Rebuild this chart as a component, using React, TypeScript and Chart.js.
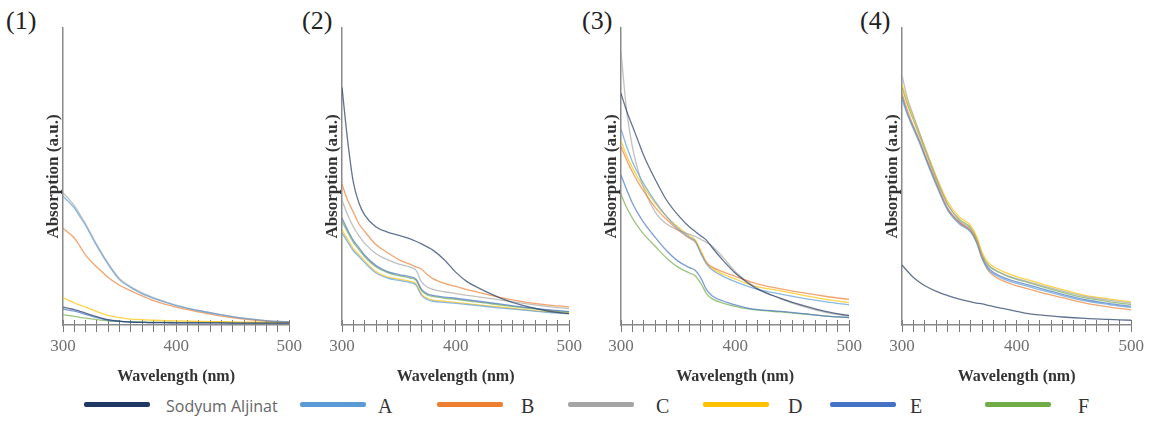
import React, { useEffect, useRef } from "react";
import { Chart, registerables } from "chart.js";

Chart.register(...registerables);

// ---------- DATA ----------
const WAVELENGTHS = [300, 305, 310, 315, 320, 330, 340, 350, 360, 365, 370, 375, 380, 390, 400, 410, 420, 440, 460, 480, 500];
const SERIES_NAMES = ["Sodyum Aljinat", "A", "B", "C", "D", "E", "F"];
const SERIES_COLORS = ["#203864", "#5b9bd5", "#ed7d31", "#a5a5a5", "#ffc000", "#4472c4", "#70ad47"];
const PANEL_LABELS = ["(1)", "(2)", "(3)", "(4)"];
const X_TICK_LABELS = [300, 400, 500];
const X_TITLE = "Wavelength (nm)";
const Y_TITLE = "Absorption (a.u.)";

// Panel (1)
const P1_SODYUM = [6.0, 5.6, 5.2, 4.6, 4.0, 2.8, 1.8, 1.3, 1.0, 0.9, 0.9, 0.8, 0.8, 0.8, 0.7, 0.7, 0.7, 0.7, 0.6, 0.6, 0.6];
const P1_A = [43.4, 41.5, 39.4, 36.5, 33.5, 26.5, 20.3, 15.2, 12.6, 11.5, 10.5, 9.7, 9.0, 7.7, 6.5, 5.6, 4.8, 3.4, 2.2, 1.4, 1.0];
const P1_B = [32.6, 31.0, 29.3, 26.5, 23.5, 19.5, 16.0, 13.4, 11.5, 10.6, 9.8, 9.0, 8.2, 7.0, 6.0, 5.2, 4.4, 3.0, 2.0, 1.3, 1.0];
const P1_C = [44.5, 42.5, 40.2, 37.2, 34.0, 27.0, 20.8, 15.6, 12.9, 11.8, 10.8, 10.0, 9.2, 7.9, 6.7, 5.7, 4.9, 3.5, 2.3, 1.5, 1.1];
const P1_D = [9.2, 8.3, 7.5, 6.7, 6.0, 4.5, 3.2, 2.5, 2.0, 1.9, 1.8, 1.7, 1.6, 1.5, 1.4, 1.3, 1.2, 1.1, 1.0, 1.0, 0.9];
const P1_E = [5.4, 5.0, 4.7, 4.2, 3.6, 2.5, 1.6, 1.2, 1.0, 0.9, 0.9, 0.8, 0.8, 0.8, 0.7, 0.7, 0.7, 0.7, 0.6, 0.6, 0.6];
const P1_F = [3.5, 3.2, 2.9, 2.6, 2.3, 1.8, 1.4, 1.2, 1.1, 1.1, 1.0, 1.0, 1.0, 1.0, 0.9, 0.9, 0.9, 0.9, 0.8, 0.8, 0.8];

// Panel (2)
const P2_SODYUM = [80, 62, 48, 41, 37, 33, 31.3, 30.2, 29, 28.2, 27.3, 26.3, 25.2, 22, 17.8, 14.6, 12.5, 9, 6.5, 4.8, 3.8];
const P2_A = [31, 28, 25, 23, 21, 17.5, 15.8, 15, 14.3, 13.5, 10, 8.6, 8, 7.6, 7.3, 6.9, 6.5, 5.7, 5, 4.3, 3.8];
const P2_B = [47.4, 42, 38, 34, 31.5, 27, 24.4, 22, 20.4, 19.6, 18.8, 17, 15.6, 14, 13, 11.9, 11, 9.2, 7.8, 6.8, 6.1];
const P2_C = [42, 37, 33, 30, 27.5, 24, 22, 20.5, 19.5, 18.5, 14.5, 12.8, 12, 11.2, 10.6, 10, 9.5, 8.4, 7.3, 6.3, 5.5];
const P2_D = [32, 28.8, 25.8, 23.6, 21.6, 18, 16.2, 15.4, 14.7, 13.9, 10.4, 9, 8.4, 8, 7.6, 7.2, 6.8, 6, 5.2, 4.5, 4];
const P2_E = [36, 32, 28.5, 26, 23.5, 20, 18, 17, 16.2, 15.5, 12, 10.5, 10, 9.4, 9, 8.5, 8, 7, 6, 5.2, 4.5];
const P2_F = [35, 31.2, 27.8, 25.3, 23, 19.5, 17.6, 16.6, 15.8, 15.1, 11.6, 10.1, 9.6, 9, 8.6, 8.1, 7.7, 6.7, 5.8, 5, 4.3];

// Panel (3)
const P3_SODYUM = [78, 72, 67, 62, 57, 49, 42, 37, 33, 31.5, 30, 28.5, 26, 21.5, 17.5, 14.5, 12, 9, 6.5, 4.5, 3.2];
const P3_A = [66, 60, 55, 51, 47.5, 41.5, 36.5, 32.5, 29.5, 28.2, 24, 20.5, 18.5, 16.3, 14.6, 13.2, 12, 10.4, 9, 7.8, 6.8];
const P3_B = [60, 55.5, 51.5, 48, 45, 39.5, 35.5, 32, 29.2, 28, 24.5, 21, 19.5, 17.8, 16.4, 15, 13.8, 12.2, 10.8, 9.6, 8.6];
const P3_C = [92, 72, 60, 52, 46, 38, 34, 32, 30.5, 29.8, 28.8, 27.8, 26.5, 22.5, 18, 14.8, 12.3, 8.8, 6.2, 4.2, 3];
const P3_D = [62, 57, 53, 49.5, 46.5, 41, 36.5, 33, 30, 28.7, 25, 21, 19, 17, 15.5, 14, 12.8, 11.5, 10, 8.6, 7.5];
const P3_E = [50.5, 45.5, 41, 37.5, 34.5, 29.5, 25, 21.5, 19.3, 18.4, 15.8, 11.8, 9.8, 8, 6.8, 5.8, 5.2, 4.6, 3.8, 3, 2.5];
const P3_F = [44, 39.5, 36, 33, 30.5, 26.5, 22.5, 19.5, 17.5, 16.6, 14, 10.5, 8.8, 7.3, 6.3, 5.5, 5, 4.4, 3.7, 3, 2.5];

// Panel (4)
const P4_SODYUM = [20.2, 18, 16, 14.5, 13.2, 11.3, 9.9, 8.7, 7.8, 7.4, 7.1, 6.6, 6.2, 5.4, 4.6, 3.8, 3.4, 2.7, 2.2, 1.9, 1.6];
const P4_A = [76, 70.5, 66, 61.5, 56.5, 47, 38.5, 34, 31.2, 27.7, 22.2, 18.8, 17.2, 15.3, 14, 13, 11.9, 9.9, 8.1, 6.9, 5.9];
const P4_B = [78, 72, 67, 62.5, 57.5, 48, 39.2, 34.6, 31.8, 28.3, 22.5, 18.5, 16.6, 14.6, 13.2, 12.2, 11.1, 9.2, 7.4, 6.1, 5.1];
const P4_C = [84, 76, 70.5, 65, 59.5, 49.5, 40.5, 35.2, 32.3, 28.8, 23.2, 20, 18.6, 16.9, 15.6, 14.6, 13.5, 11.4, 9.6, 8.4, 7.4];
const P4_D = [81, 75, 70, 65, 60, 50, 41.5, 36.4, 33.4, 29.9, 24.4, 21.2, 19.6, 17.7, 16.3, 15.2, 14.1, 11.9, 10, 8.8, 7.8];
const P4_E = [77, 71, 66.5, 62, 57, 47.5, 39, 34.5, 31.6, 28.1, 22.6, 19.3, 17.7, 15.8, 14.5, 13.5, 12.4, 10.3, 8.5, 7.3, 6.3];
const P4_F = [80, 74, 69, 64, 59, 49, 40.5, 35.6, 32.8, 29.3, 23.6, 20.4, 18.8, 16.8, 15.4, 14.3, 13.2, 11, 9.1, 7.9, 6.9];

const PANEL_SERIES = [
  [P1_SODYUM, P1_A, P1_B, P1_C, P1_D, P1_E, P1_F],
  [P2_SODYUM, P2_A, P2_B, P2_C, P2_D, P2_E, P2_F],
  [P3_SODYUM, P3_A, P3_B, P3_C, P3_D, P3_E, P3_F],
  [P4_SODYUM, P4_A, P4_B, P4_C, P4_D, P4_E, P4_F],
];

// ---------- LAYOUT ----------
const AXIS_LEFT = [63, 342, 621, 902];
const AXIS_RIGHT = [290, 570, 850, 1132];
const LABEL_LEFT = [6, 302, 582, 860];
const Y_AXIS_W = 28;
const RIGHT_PAD = 16;
const CANVAS_H = 392;
const PLOT_TOP = 28;
const PLOT_BOTTOM = 325;

const LEGEND_LINE_X = [84, 300, 437, 568, 703, 830, 985];
const LEGEND_TEXT_X = [166, 378, 521, 656, 788, 910, 1078];

const SERIF = '"Liberation Serif", "Times New Roman", serif';

function Panel({ idx }: { idx: number }) {
  const ref = useRef<HTMLCanvasElement | null>(null);
  const left = AXIS_LEFT[idx] - Y_AXIS_W;
  const width = AXIS_RIGHT[idx] - AXIS_LEFT[idx] + Y_AXIS_W + RIGHT_PAD;

  useEffect(() => {
    if (!ref.current) return;
    const series = PANEL_SERIES[idx];
    const chart = new Chart(ref.current, {
      type: "line",
      data: {
        datasets: series.map((vals, i) => ({
          label: SERIES_NAMES[i],
          data: WAVELENGTHS.map((w, j) => ({ x: w, y: vals[j] })),
          borderColor: SERIES_COLORS[i] + "b3",
          borderWidth: 1.3,
          pointRadius: 0,
          fill: false,
          cubicInterpolationMode: "monotone",
        })),
      },
      options: {
        responsive: false,
        animation: false,
        events: [],
        layout: { padding: { top: PLOT_TOP, right: RIGHT_PAD, left: 0, bottom: 0 } },
        plugins: { legend: { display: false }, tooltip: { enabled: false }, title: { display: false } },
        scales: {
          x: {
            type: "linear",
            min: 300,
            max: 500,
            position: "bottom",
            weight: 0,
            ticks: { display: false, stepSize: 10, autoSkip: false },
            grid: { drawOnChartArea: false, drawTicks: true, tickLength: -5, color: "#7a7a7a", lineWidth: 1 },
            border: { display: true, color: "#8a8a8a", width: 1.5 },
            afterFit: (s: any) => {
              s.height = 0;
            },
          },
          x2: {
            type: "linear",
            min: 300,
            max: 500,
            position: "bottom",
            weight: 1,
            ticks: {
              stepSize: 10,
              autoSkip: false,
              maxRotation: 0,
              minRotation: 0,
              padding: 4,
              color: "#707070",
              font: { family: SERIF, size: 17 },
              callback: (v: any) => (X_TICK_LABELS.includes(Number(v)) ? String(v) : ""),
            },
            grid: { drawOnChartArea: false, drawTicks: true, tickLength: 7, color: "#7a7a7a", lineWidth: 1 },
            border: { display: false },
            title: {
              display: true,
              text: X_TITLE,
              color: "#333",
              font: { family: SERIF, size: 16, weight: "bold" },
              padding: { top: 0, bottom: 6 },
            },
            afterFit: (s: any) => {
              s.height = CANVAS_H - PLOT_BOTTOM;
            },
          },
          y: {
            type: "linear",
            min: 0,
            max: 100,
            position: "left",
            ticks: { display: false },
            grid: { drawOnChartArea: false, drawTicks: false },
            border: { display: true, color: "#8a8a8a", width: 1.5 },
            title: {
              display: true,
              text: Y_TITLE,
              color: "#333",
              font: { family: SERIF, size: 17, weight: "bold" },
              padding: { top: 8, bottom: 0 },
            },
            afterFit: (s: any) => {
              s.width = Y_AXIS_W;
            },
          },
        },
      } as any,
    });
    return () => chart.destroy();
  }, [idx]);

  return (
    <canvas
      ref={ref}
      width={width}
      height={CANVAS_H}
      style={{ position: "absolute", left, top: 0, width, height: CANVAS_H }}
    />
  );
}

export default function App() {
  return (
    <div
      style={{
        position: "fixed",
        left: 0,
        top: 0,
        width: 1151,
        height: 421,
        background: "#fff",
        overflow: "hidden",
      }}
    >
      {PANEL_LABELS.map((lab, i) => (
        <div
          key={lab}
          style={{
            position: "absolute",
            left: LABEL_LEFT[i],
            top: 6,
            fontFamily: SERIF,
            fontSize: 26,
            lineHeight: "30px",
            color: "#222",
          }}
        >
          {lab}
        </div>
      ))}
      {[0, 1, 2, 3].map((i) => (
        <Panel key={i} idx={i} />
      ))}
      {SERIES_NAMES.map((name, i) => (
        <React.Fragment key={name}>
          <div
            style={{
              position: "absolute",
              left: LEGEND_LINE_X[i],
              top: 402,
              width: 66,
              height: 5,
              borderRadius: 2,
              background: SERIES_COLORS[i],
            }}
          />
          <div
            style={{
              position: "absolute",
              left: LEGEND_TEXT_X[i],
              top: 394,
              height: 24,
              lineHeight: "24px",
              whiteSpace: "nowrap",
              fontFamily: i === 0 ? '"Open Sans", "Noto Sans", sans-serif' : SERIF,
              fontSize: i === 0 ? 16 : 20,
              color: i === 0 ? "#666" : "#333",
            }}
          >
            {name}
          </div>
        </React.Fragment>
      ))}
    </div>
  );
}
